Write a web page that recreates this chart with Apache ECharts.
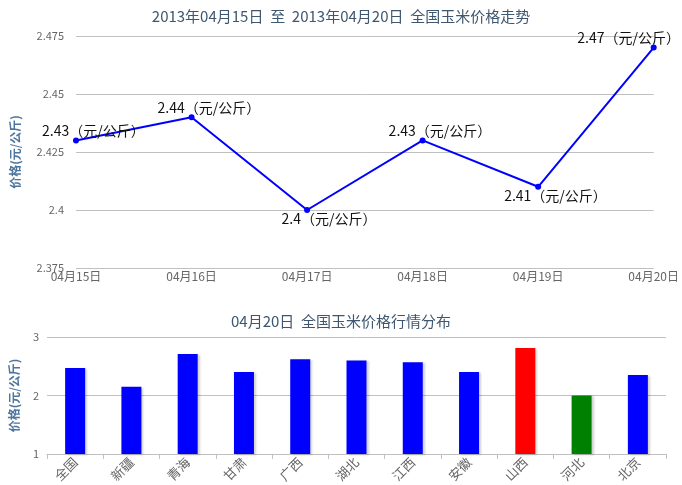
<!DOCTYPE html>
<html><head><meta charset="utf-8">
<script src="https://cdn.jsdelivr.net/npm/echarts@6/dist/echarts.min.js"></script>
<style>html,body{margin:0;padding:0;background:#fff}#c{width:682px;height:485px}</style>
</head><body><div id="c"></div>
<script>
var trendTitle = '2013年04月15日  至  2013年04月20日  全国玉米价格走势';
var dates = ['04月15日','04月16日','04月17日','04月18日','04月19日','04月20日'];
var prices = [2.43, 2.44, 2.40, 2.43, 2.41, 2.47];
var labelBelow = [false, false, true, false, true, false];
var distTitle = '04月20日  全国玉米价格行情分布';
var regions = ['全国','新疆','青海','甘肃','广西','湖北','江西','安徽','山西','河北','北京'];
var regionPrices = [2.47, 2.15, 2.71, 2.40, 2.62, 2.60, 2.57, 2.40, 2.81, 2.00, 2.35];
var regionColors = ['#0000ff','#0000ff','#0000ff','#0000ff','#0000ff','#0000ff','#0000ff','#0000ff','#ff0000','#008000','#0000ff'];
var yName = '价格(元/公斤)';
var unit = '（元/公斤）';

var font = '"Noto Sans CJK SC", "Open Sans", sans-serif';
var W = 682;
var chart = echarts.init(document.getElementById('c'), null, {renderer:'canvas'});
chart.setOption({
  animation: false,
  textStyle: {fontFamily: font},
  title: [
    {text: trendTitle, left: 'center', top: 4, textStyle: {fontSize: 15, fontWeight: 'normal', color: '#3E576F', fontFamily: font}},
    {text: distTitle, left: 'center', top: 309, textStyle: {fontSize: 15, fontWeight: 'normal', color: '#3E576F', fontFamily: font}}
  ],
  grid: [
    {left: 76, right: 20, top: 36, bottom: 217},
    {left: 46, right: 16, top: 337, bottom: 30}
  ],
  xAxis: [
    {type: 'category', gridIndex: 0, data: dates, boundaryGap: false,
     axisLine: {show: false}, axisTick: {show: false},
     axisLabel: {color: '#666', fontSize: 12, margin: 2, interval: 0}},
    {type: 'category', gridIndex: 1, data: regions,
     axisLine: {lineStyle: {color: '#c0c0c0'}}, axisTick: {show: true, lineStyle: {color: '#c0c0c0'}, length: 5},
     axisLabel: {color: '#666', fontSize: 13, rotate: 45, margin: 6, interval: 0}}
  ],
  yAxis: [
    {type: 'value', gridIndex: 0, min: 2.375, max: 2.475, interval: 0.025,
     name: yName, nameLocation: 'middle', nameGap: 55, nameRotate: 90,
     nameTextStyle: {color: '#4d759e', fontSize: 12, fontWeight: 'bold'},
     axisLabel: {color: '#666', fontSize: 11, margin: 12},
     splitLine: {lineStyle: {color: '#c0c0c0'}}},
    {type: 'value', gridIndex: 1, min: 1, max: 3, interval: 1,
     name: yName, nameLocation: 'middle', nameGap: 27, nameRotate: 90,
     nameTextStyle: {color: '#4d759e', fontSize: 12, fontWeight: 'bold'},
     axisLabel: {color: '#666', fontSize: 11, margin: 8},
     splitLine: {lineStyle: {color: '#c0c0c0'}}}
  ],
  series: [
    {type: 'line', xAxisIndex: 0, yAxisIndex: 0,
     data: prices,
     lineStyle: {color: '#0000ff', width: 2},
     itemStyle: {color: '#0000ff'},
     symbol: 'circle', symbolSize: 6,
     label: {show: true, color: '#111', fontSize: 14, position: 'top',
       formatter: function(p){ return p.value + unit; }},
     labelLayout: function(p){
       var r = p.rect;
       var cx = r.x + r.width / 2, cy = r.y + r.height / 2;
       var txt = String(prices[p.dataIndex]);
       var w = p.labelRect.width;
       var x = cx - txt.length * 8.5;
       if (x + w > W - 2) x = W - 2 - w;
       var below = labelBelow[p.dataIndex];
       return {x: x, y: below ? cy + 9 : cy - 10, align: 'left', verticalAlign: 'middle'};
     }},
    {type: 'bar', xAxisIndex: 1, yAxisIndex: 1, barWidth: 20,
     data: regionPrices.map(function(v, i){ return {value: v, itemStyle: {color: regionColors[i]}}; }),
     itemStyle: {shadowColor: 'rgba(0,0,0,0.18)', shadowBlur: 2, shadowOffsetX: 2, shadowOffsetY: 1}}
  ]
});
</script></body></html>
